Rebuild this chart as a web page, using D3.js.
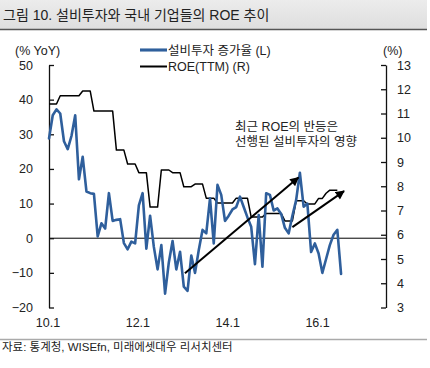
<!DOCTYPE html>
<html><head><meta charset="utf-8">
<script src="https://cdn.jsdelivr.net/npm/d3@7"></script>
<style>
html,body{margin:0;padding:0;background:#fff;}
svg{display:block;}
text{font-family:"Liberation Sans","Noto Sans CJK KR",Arial,sans-serif;fill:#222;}
.kr{font-family:"Liberation Sans","Noto Sans CJK KR",sans-serif;}
</style></head>
<body>
<svg id="c" width="430" height="368"></svg>
<script>
// ---- data ----
const title = "그림 10. 설비투자와 국내 기업들의 ROE 추이";
const source = "자료: 통계청, WISEfn, 미래에셋대우 리서치센터";
const seriesNames = ["설비투자 증가율 (L)", "ROE(TTM) (R)"];
const annotation = ["최근 ROE의 반등은", "선행된 설비투자의 영향"];
// months since 2010.1
const xTickMonths = [0, 24, 48, 72];
const xTickLabels = ["10.1", "12.1", "14.1", "16.1"];
const leftTicks = [-20, -10, 0, 10, 20, 30, 40, 50];
const rightTicks = [3, 4, 5, 6, 7, 8, 9, 10, 11, 12, 13];
// 설비투자 증가율 (% YoY), monthly from 2010.1
const capex = [28.8, 35.5, 37.2, 36, 28, 25.7, 29.5, 35.5, 17, 23.5, 13.5, 13, 12.8, 0.5, 4.3, 2.8, 13, 5, 5.3, 5.5,
  -1.4, -3.2, -1, -1.5, 9.5, 13, -3, 6.5, -2.5, -9, -2, -16, -7, -0.8, -9, -3.9, -14, -15.2, -5, -10,
  -3.4, 2.4, 1.4, 11.5, -1.5, 15.4, 12.5, 5, 6.5, 8.3, 9, 12, 9, 6, 3.3, -7.5, 6.7, -8.2, 13, 12.5,
  8, 8.6, 7, 3, 1.4, 6.5, 11, 18.9, 9.1, 10, -4, -1.5, -4.4, -10, -6, -2, 1, 2.4, -10.3];
// ROE(TTM) (%), monthly from 2010.1
const roe = [11.39, 11.39, 11.39, 11.73, 11.73, 11.73, 11.73, 11.73, 11.73, 11.93, 11.93, 11.93,
  11.1, 11.1, 11.1, 11.1, 11.1, 11.1, 9.49, 9.49, 9.49, 8.92, 8.92, 8.92, 8.56, 8.56, 8.56,
  7.14, 7.14, 7.14, 8.67, 8.67, 8.67, 8.56, 8.56, 8.56, 7.98, 7.98, 7.98, 8.09, 8.09, 8.09,
  7.51, 7.51, 7.51, 7.31, 7.31, 7.31, 7.31, 7.31, 7.51, 7.51, 7.51, 7.51, 6.73, 6.73, 6.73, 6.73,
  6.88, 6.88, 6.88, 6.88, 6.88, 6.57, 6.57, 6.57, 7.4, 7.4, 7.4, 7.27, 7.27, 7.27, 7.5, 7.5, 7.71,
  7.84, 7.84, 7.84];
// arrows: [month, leftValue] start -> end
const arrows = [
  [[36.3, -10.1], [66.6, 17.5]],
  [[65.0, 3.2], [78.8, 13.6]]
];

// ---- chart ----
const svg = d3.select("#c");
const x = d3.scaleLinear().domain([0, 90]).range([49, 386]);
const yL = d3.scaleLinear().domain([-20, 50]).range([307.5, 65]);
const yR = d3.scaleLinear().domain([3, 13]).range([307.5, 65]);

// title bar
const grad = svg.append("defs").append("linearGradient").attr("id", "tg").attr("x1", 0).attr("y1", 0).attr("x2", 0).attr("y2", 1);
grad.append("stop").attr("offset", "0%").attr("stop-color", "#ececec");
grad.append("stop").attr("offset", "100%").attr("stop-color", "#dedede");
svg.append("rect").attr("x", 0).attr("y", 0).attr("width", 427).attr("height", 29).attr("fill", "url(#tg)");
svg.append("line").attr("x1", 0).attr("x2", 427).attr("y1", 29.5).attr("y2", 29.5).attr("stroke", "#555").attr("stroke-width", 1.5);
svg.append("text").attr("class", "kr").attr("x", 3).attr("y", 20).attr("font-size", 14).attr("fill", "#111").text(title);

// zero line
svg.append("line").attr("x1", x(0)).attr("x2", x(90)).attr("y1", yL(0)).attr("y2", yL(0)).attr("stroke", "#000").attr("stroke-width", 1);

// axes
const axL = svg.append("g").attr("transform", `translate(${x(0)},0)`)
  .call(d3.axisLeft(yL).tickValues(leftTicks).tickSizeInner(-5).tickSizeOuter(0).tickPadding(16).tickFormat(d => d === 0 ? "0" : d3.format("d")(d).replace("-", "−")));
const axR = svg.append("g").attr("transform", `translate(${x(90)},0)`)
  .call(d3.axisRight(yR).tickValues(rightTicks).tickSizeInner(-5).tickSizeOuter(0).tickPadding(11));
[axL, axR].forEach(a => {
  a.select(".domain").attr("stroke", "#111").attr("stroke-width", 1.3);
  a.selectAll(".tick line").attr("stroke", "#111").attr("stroke-width", 1.3);
  a.selectAll("text").attr("font-size", 12.5).attr("font-family", "Liberation Sans, Arial, sans-serif").attr("fill", "#222");
});

// x labels
svg.append("g").selectAll("text").data(xTickMonths).join("text")
  .attr("x", d => x(d) - 1).attr("y", 327).attr("text-anchor", "middle").attr("font-size", 12.5)
  .text((d, i) => xTickLabels[i]);

// unit labels
svg.append("text").attr("x", 15).attr("y", 55).attr("font-size", 12.5).text("(% YoY)");
svg.append("text").attr("x", 383).attr("y", 55).attr("font-size", 12.5).text("(%)");

// lines
const lineL = d3.line().x((d, i) => x(i)).y(d => yL(d));
const lineR = d3.line().x((d, i) => x(i)).y(d => yR(d));
svg.append("path").datum(roe).attr("d", lineR).attr("fill", "none").attr("stroke", "#000").attr("stroke-width", 1.5).attr("stroke-linejoin", "round");
svg.append("path").datum(capex).attr("d", lineL).attr("fill", "none").attr("stroke", "#2f5f9c").attr("stroke-width", 2.6).attr("stroke-linejoin", "round").attr("stroke-linecap", "round");

// arrows
const mk = svg.select("defs").append("marker").attr("id", "ah").attr("viewBox", "0 0 10 10").attr("refX", 9).attr("refY", 5)
  .attr("markerWidth", 5).attr("markerHeight", 4.5).attr("orient", "auto").attr("markerUnits", "strokeWidth");
mk.append("path").attr("d", "M0,0 L10,5 L0,10 Z").attr("fill", "#000");
svg.append("g").selectAll("line").data(arrows).join("line")
  .attr("x1", d => x(d[0][0])).attr("y1", d => yL(d[0][1]))
  .attr("x2", d => x(d[1][0])).attr("y2", d => yL(d[1][1]))
  .attr("stroke", "#000").attr("stroke-width", 2).attr("marker-end", "url(#ah)");

// annotation
svg.append("g").selectAll("text").data(annotation).join("text").attr("class", "kr")
  .attr("x", 235).attr("y", (d, i) => 131 + i * 15).attr("font-size", 12.5).attr("fill", "#222").text(d => d);

// legend
const lg = svg.append("g");
const lgColors = ["#2f5f9c", "#000"];
const lgWidths = [2.6, 1.5];
seriesNames.forEach((n, i) => {
  const yy = 50 + i * 16.5;
  lg.append("line").attr("x1", 140).attr("x2", 167).attr("y1", yy).attr("y2", yy).attr("stroke", lgColors[i]).attr("stroke-width", lgWidths[i] + 0.5);
  lg.append("text").attr("class", "kr").attr("x", 168).attr("y", yy + 4.5).attr("font-size", 12.5).attr("fill", "#222").text(n);
});

// source
svg.append("line").attr("x1", 0).attr("x2", 427).attr("y1", 339.5).attr("y2", 339.5).attr("stroke", "#aaa").attr("stroke-width", 1.5);
svg.append("text").attr("class", "kr").attr("x", 2).attr("y", 351).attr("font-size", 11.5).attr("fill", "#222").text(source);
</script>
</body></html>
